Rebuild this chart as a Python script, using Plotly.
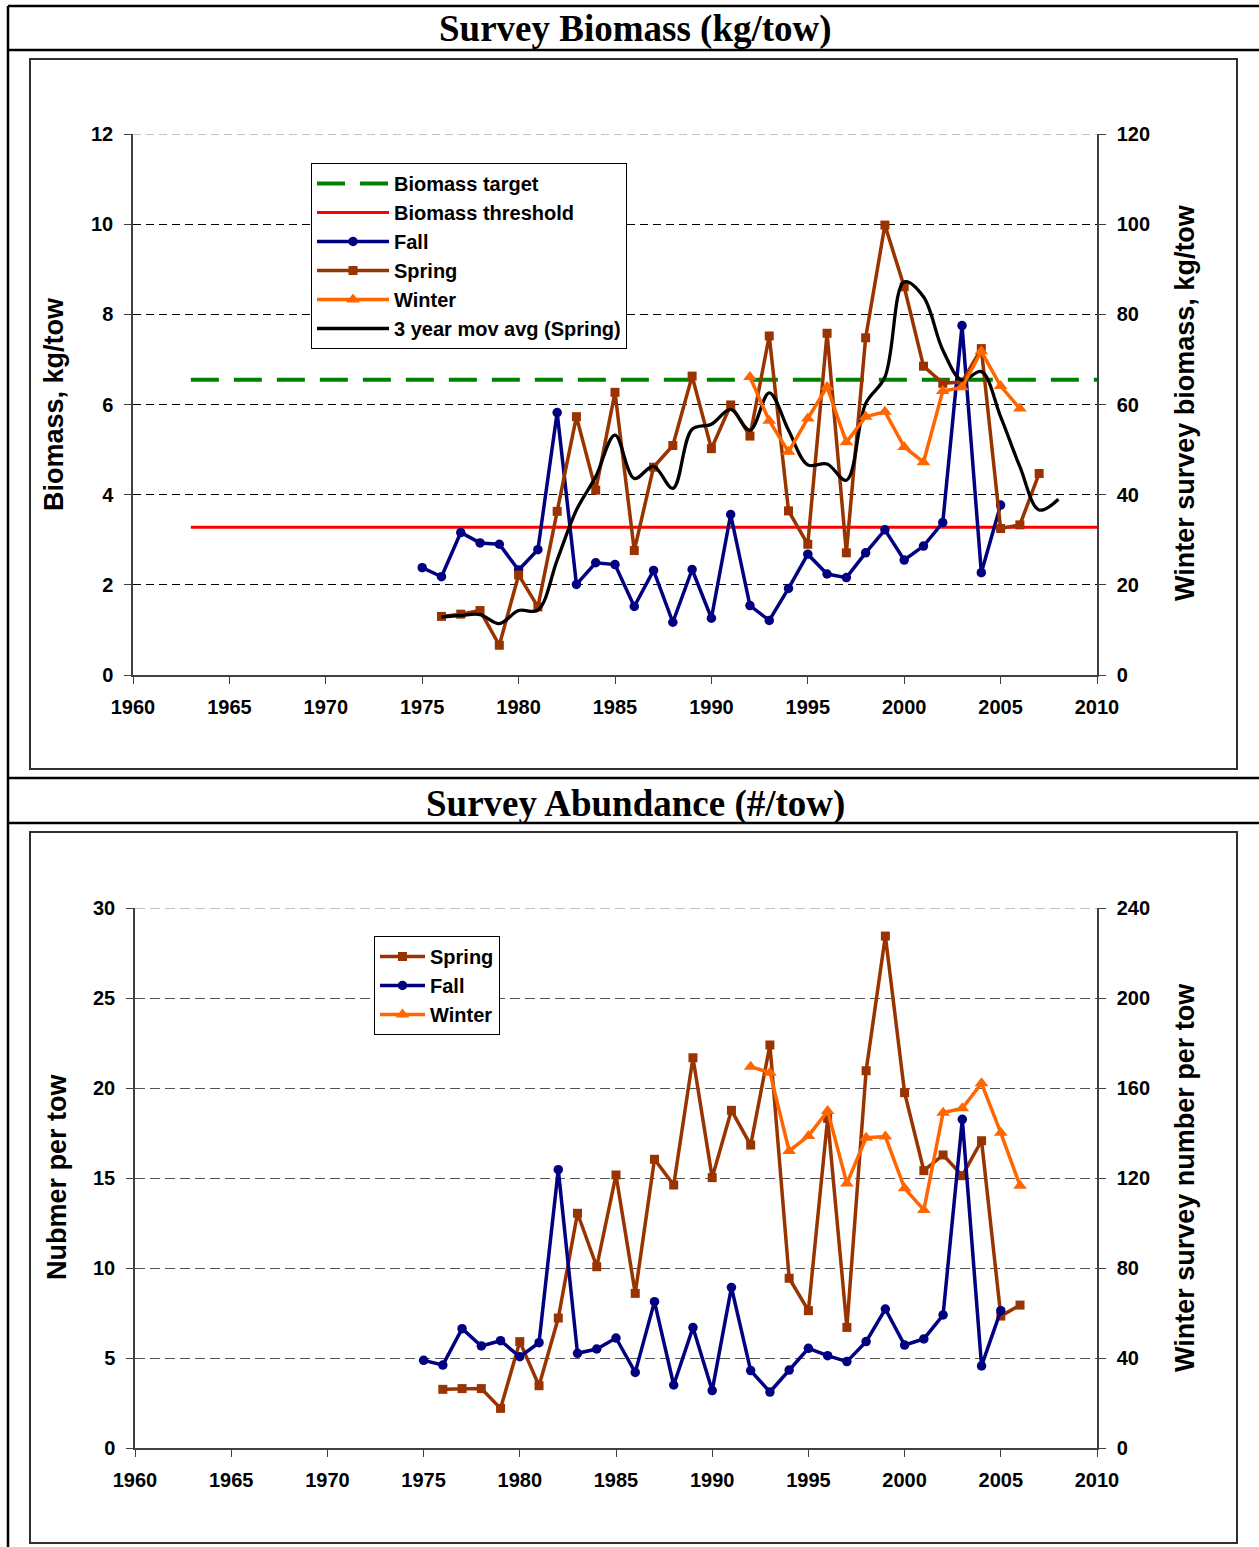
import plotly.graph_objects as go

W, H = 1259, 1547

# ---------------- data: Survey Biomass (kg/tow) ----------------
bio_fall_years = list(range(1975, 2006))
bio_fall = [2.38, 2.18, 3.16, 2.93, 2.90, 2.33, 2.78, 5.82, 2.01, 2.49,
            2.45, 1.52, 2.32, 1.17, 2.34, 1.26, 3.56, 1.54, 1.21, 1.92,
            2.68, 2.24, 2.16, 2.71, 3.22, 2.55, 2.86, 3.38, 7.75, 2.27,
            3.77]
bio_spring_years = list(range(1976, 2008))
bio_spring = [1.30, 1.35, 1.43, 0.66, 2.22, 1.51, 3.63, 5.73, 4.10, 6.27,
              2.76, 4.61, 5.09, 6.63, 5.02, 5.99, 5.30, 7.52, 3.64, 2.90,
              7.58, 2.71, 7.48, 9.98, 8.61, 6.85, 6.47, 6.50, 7.24, 3.25,
              3.33, 4.47]
bio_winter_years = list(range(1992, 2007))
bio_winter = [66.1, 56.4, 49.5, 56.9, 63.9, 51.6, 57.3, 58.4, 50.6, 47.2,
              63.0, 63.8, 71.8, 64.1, 59.1]
movavg_years = list(range(1976, 2009))
movavg_spring = [1.29, 1.32, 1.34, 1.14, 1.43, 1.44, 2.55, 3.66, 4.40, 5.32,
                 4.36, 4.63, 4.14, 5.45, 5.56, 5.89, 5.43, 6.26, 5.43, 4.66,
                 4.68, 4.32, 6.02, 6.61, 8.72, 8.39, 7.21, 6.54, 6.73, 5.73,
                 4.62, 3.66, 3.90]
ref_years = [1963, 2010]
biomass_target = 6.55
biomass_threshold = 3.28

# ---------------- data: Survey Abundance (#/tow) ----------------
abu_fall_years = list(range(1975, 2006))
abu_fall = [4.87, 4.61, 6.63, 5.67, 5.96, 5.07, 5.85, 15.46, 5.26, 5.50,
            6.11, 4.20, 8.13, 3.50, 6.69, 3.19, 8.92, 4.30, 3.11, 4.33,
            5.54, 5.13, 4.80, 5.91, 7.72, 5.72, 6.06, 7.39, 18.26, 4.56,
            7.63]
abu_spring_years = list(range(1976, 2007))
abu_spring = [3.26, 3.30, 3.30, 2.20, 5.91, 3.46, 7.22, 13.04, 10.07, 15.17,
              8.59, 16.04, 14.61, 21.68, 15.02, 18.76, 16.83, 22.39, 9.43, 7.63,
              18.31, 6.70, 20.96, 28.44, 19.74, 15.41, 16.28, 15.13, 17.07, 7.33,
              7.94]
abu_winter_years = list(range(1992, 2007))
abu_winter = [169.5, 166.8, 132.0, 138.7, 149.8, 117.6, 137.9, 138.4, 115.4, 105.8,
              149.0, 151.0, 162.1, 140.1, 116.6]

x_ticks = list(range(1960, 2011, 5))
top_y_max = 12
bot_y_max = 30

# ---------------- styling ----------------
NAVY = "#000080"
BROWN = "#993300"
ORANGE = "#FF6600"
GREEN = "#008000"
RED = "#FF0000"
SANS = "Liberation Sans, Arial, sans-serif"
SERIF = "Liberation Serif, Times New Roman, serif"


def px(x):
    return x / W


def py(y):
    return 1 - y / H


fig = go.Figure()

LW = 3.5
sq = dict(symbol="square", size=9, color=BROWN)
ci = dict(symbol="circle", size=9.5, color=NAVY)
tr = dict(symbol="triangle-up", size=12, color=ORANGE)

# top chart traces
fig.add_trace(go.Scatter(x=ref_years, y=[biomass_target] * len(ref_years),
                         mode="lines", name="Biomass target",
                         line=dict(color=GREEN, width=4, dash="28px,15px"),
                         xaxis="x", yaxis="y", legend="legend"))
fig.add_trace(go.Scatter(x=ref_years, y=[biomass_threshold] * len(ref_years),
                         mode="lines", name="Biomass threshold",
                         line=dict(color=RED, width=3),
                         xaxis="x", yaxis="y", legend="legend"))
fig.add_trace(go.Scatter(x=bio_fall_years, y=bio_fall, mode="lines+markers",
                         name="Fall", line=dict(color=NAVY, width=LW), marker=ci,
                         xaxis="x", yaxis="y", legend="legend"))
fig.add_trace(go.Scatter(x=bio_spring_years, y=bio_spring, mode="lines+markers",
                         name="Spring", line=dict(color=BROWN, width=LW), marker=sq,
                         xaxis="x", yaxis="y", legend="legend"))
fig.add_trace(go.Scatter(x=bio_winter_years, y=bio_winter, mode="lines+markers",
                         name="Winter", line=dict(color=ORANGE, width=LW), marker=tr,
                         xaxis="x", yaxis="y2", legend="legend"))
fig.add_trace(go.Scatter(x=movavg_years, y=movavg_spring, mode="lines",
                         name="3 year mov avg (Spring)",
                         line=dict(color="black", width=3.3, shape="spline", smoothing=1),
                         xaxis="x", yaxis="y", legend="legend"))

# bottom chart traces
fig.add_trace(go.Scatter(x=abu_spring_years, y=abu_spring, mode="lines+markers",
                         name="Spring", line=dict(color=BROWN, width=LW), marker=sq,
                         xaxis="x2", yaxis="y3", legend="legend2"))
fig.add_trace(go.Scatter(x=abu_fall_years, y=abu_fall, mode="lines+markers",
                         name="Fall", line=dict(color=NAVY, width=LW), marker=ci,
                         xaxis="x2", yaxis="y3", legend="legend2"))
fig.add_trace(go.Scatter(x=abu_winter_years, y=abu_winter, mode="lines+markers",
                         name="Winter", line=dict(color=ORANGE, width=LW), marker=tr,
                         xaxis="x2", yaxis="y4", legend="legend2"))

tickfont = dict(family=SANS, size=20, color="black", weight="bold")

xcommon = dict(range=[1960, 2010], tickvals=x_ticks, showgrid=False, zeroline=False,
               showline=True, linecolor="#404040", linewidth=1.5,
               ticks="outside", ticklen=7, tickcolor="#404040", tickwidth=1.2,
               tickfont=tickfont, ticklabelstandoff=6, fixedrange=True,
               automargin=False)
ycommon = dict(showline=True, linecolor="#404040", linewidth=1.5, zeroline=False,
               ticks="outside", ticklen=7, tickcolor="#404040", tickwidth=1.2,
               tickfont=tickfont, ticklabelstandoff=7, fixedrange=True,
               automargin=False)

top_dom = [py(675), py(134)]
bot_dom = [py(1448), py(908)]
legend_font = dict(family=SANS, size=20, color="black", weight="bold")

fig.update_layout(
    width=W, height=H, autosize=False,
    margin=dict(l=0, r=0, t=0, b=0, pad=0, autoexpand=False),
    paper_bgcolor="white", plot_bgcolor="rgba(0,0,0,0)",
    showlegend=True,
    xaxis=dict(domain=[px(133), px(1097)], anchor="y", **xcommon),
    yaxis=dict(domain=top_dom, anchor="x", range=[0, top_y_max], dtick=2,
               showgrid=True, gridcolor="black", gridwidth=1, griddash="8px,5px",
               **ycommon),
    yaxis2=dict(overlaying="y", side="right", anchor="x", range=[0, 120], dtick=20,
                showgrid=False, **ycommon),
    xaxis2=dict(domain=[px(135), px(1097)], anchor="y3", **xcommon),
    yaxis3=dict(domain=bot_dom, anchor="x2", range=[0, bot_y_max], dtick=5,
                showgrid=True, gridcolor="#555555", gridwidth=1.2, griddash="10px,5px",
                **ycommon),
    yaxis4=dict(overlaying="y3", side="right", anchor="x2", range=[0, 240], dtick=40,
                showgrid=False, **ycommon),
    legend=dict(x=px(311), y=py(163), xanchor="left", yanchor="top",
                bgcolor="white", bordercolor="black", borderwidth=1,
                font=legend_font, tracegroupgap=0, itemwidth=72),
    legend2=dict(x=px(374), y=py(936), xanchor="left", yanchor="top",
                 bgcolor="white", bordercolor="black", borderwidth=1,
                 font=legend_font, tracegroupgap=0, itemwidth=45),
)

# frame lines, panel boxes, top gridlines
shapes = []
frame_line = dict(color="black", width=2.5)
shapes.append(dict(type="line", xref="paper", yref="paper", x0=px(8), x1=1, y0=py(6), y1=py(6), line=frame_line))
shapes.append(dict(type="line", xref="paper", yref="paper", x0=px(8), x1=px(8), y0=py(6), y1=0, line=frame_line))
for yy in [50, 778, 823]:
    shapes.append(dict(type="line", xref="paper", yref="paper", x0=px(8), x1=1, y0=py(yy), y1=py(yy), line=frame_line))
box_line = dict(color="#303030", width=2)
shapes.append(dict(type="rect", xref="paper", yref="paper", x0=px(30), x1=px(1237), y0=py(769), y1=py(59), line=box_line))
shapes.append(dict(type="rect", xref="paper", yref="paper", x0=px(30), x1=px(1237), y0=py(1543), y1=py(832), line=box_line))
shapes.append(dict(type="line", xref="x domain", yref="y", x0=0, x1=1, y0=top_y_max, y1=top_y_max,
                   line=dict(color="#888888", width=1.2, dash="8px,5px"), layer="below"))
shapes.append(dict(type="line", xref="x2 domain", yref="y3", x0=0, x1=1, y0=bot_y_max, y1=bot_y_max,
                   line=dict(color="#888888", width=1.2, dash="10px,5px"), layer="below"))
fig.update_layout(shapes=shapes)

# titles and axis titles
ann = []
title_font = dict(family=SERIF, size=37, color="black", weight="bold")
ann.append(dict(text="Survey Biomass (kg/tow)", x=px(636), y=py(29), xref="paper", yref="paper",
                showarrow=False, xanchor="center", yanchor="middle", font=title_font))
ann.append(dict(text="Survey Abundance (#/tow)", x=px(636), y=py(804), xref="paper", yref="paper",
                showarrow=False, xanchor="center", yanchor="middle", font=title_font))
axt_font = dict(family=SANS, size=27, color="black", weight="bold")
ann.append(dict(text="Biomass, kg/tow", x=px(54), y=py(404), xref="paper", yref="paper",
                showarrow=False, textangle=-90, xanchor="center", yanchor="middle", font=axt_font))
ann.append(dict(text="Winter survey biomass, kg/tow", x=px(1185), y=py(403), xref="paper", yref="paper",
                showarrow=False, textangle=-90, xanchor="center", yanchor="middle", font=axt_font))
ann.append(dict(text="Nubmer per tow", x=px(57), y=py(1177), xref="paper", yref="paper",
                showarrow=False, textangle=-90, xanchor="center", yanchor="middle", font=axt_font))
ann.append(dict(text="Winter survey number per tow", x=px(1185), y=py(1178), xref="paper", yref="paper",
                showarrow=False, textangle=-90, xanchor="center", yanchor="middle", font=axt_font))
fig.update_layout(annotations=ann)

fig.write_html("out.html", config={"displayModeBar": False})
